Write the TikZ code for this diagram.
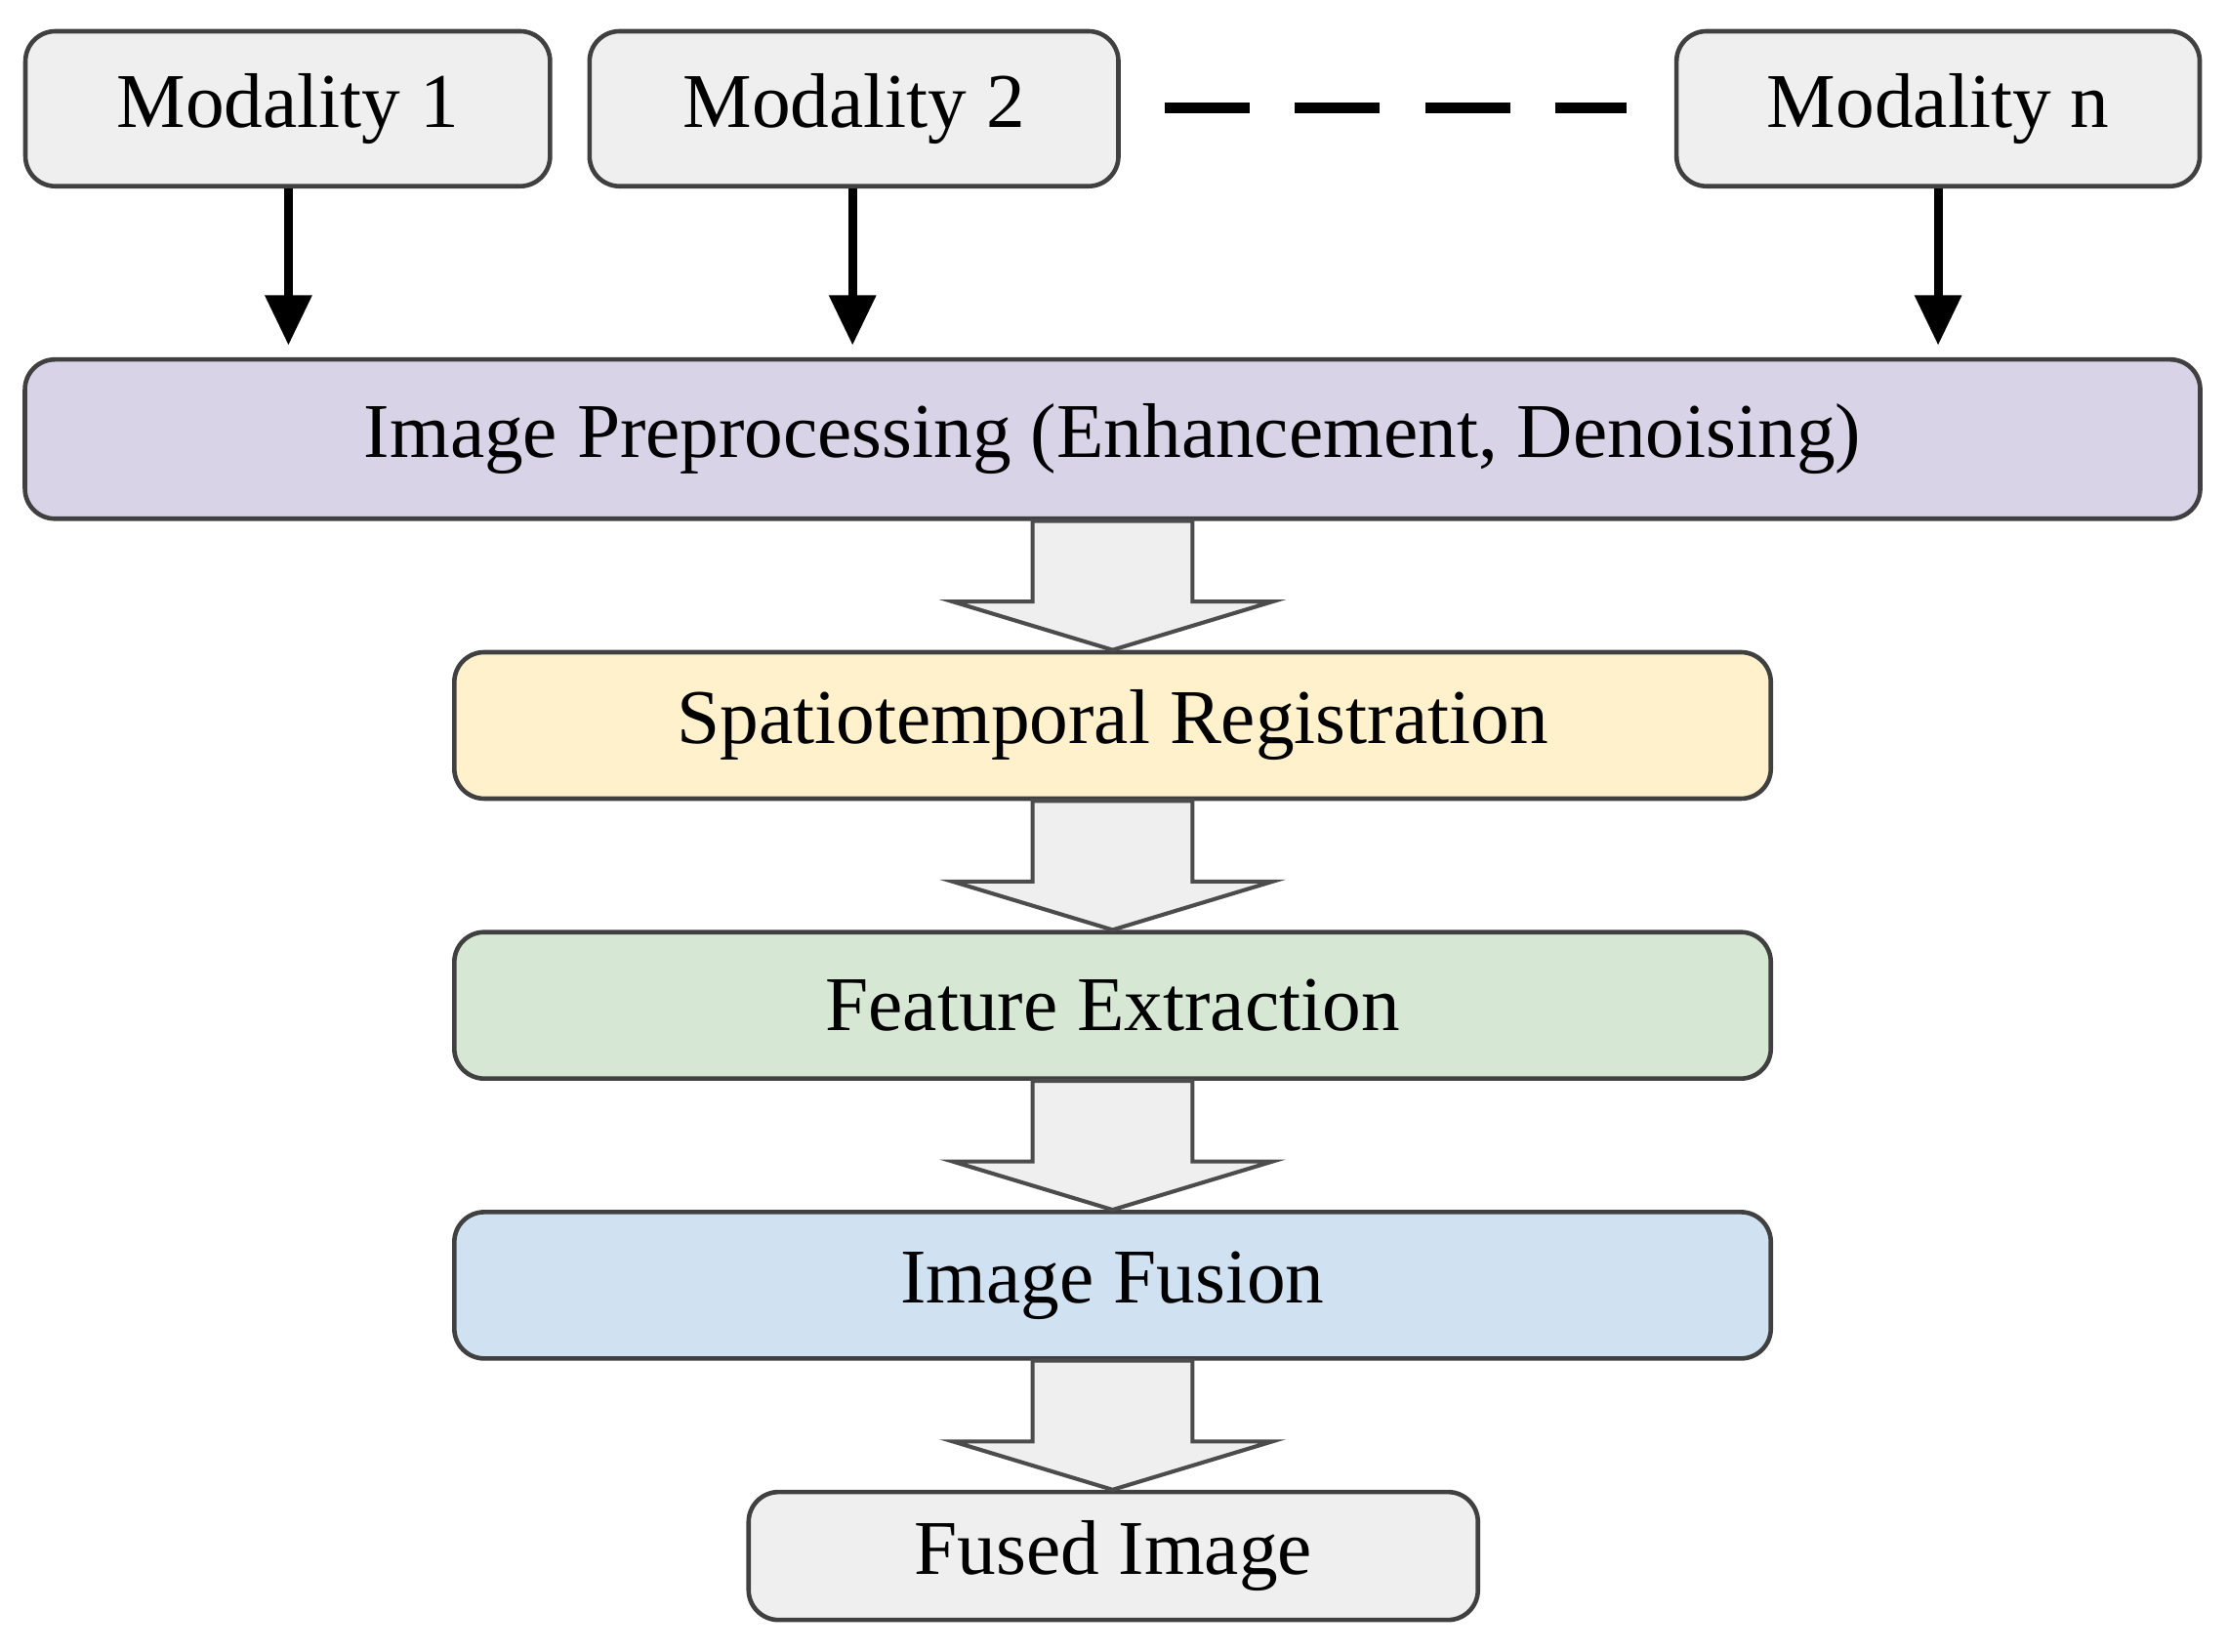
\documentclass[tikz,border=0pt]{standalone}
\usepackage{fontspec}
\setmainfont{Liberation Serif}
\usetikzlibrary{calc,arrows.meta}
\definecolor{grayf}{HTML}{EFEFEF}
\definecolor{purp}{HTML}{D9D3E8}
\definecolor{yel}{HTML}{FFF1CC}
\definecolor{grn}{HTML}{D6E8D3}
\definecolor{blu}{HTML}{D0E1F2}
\begin{document}
\begin{tikzpicture}[x=0.01cm,y=-0.01cm,
  box/.style={draw=black!75,line width=0.9pt,rounded corners=6pt,font=\fontsize{15.5}{18}\selectfont},
  blk/.style={-{Triangle[length=10pt,width=9pt]},line width=1.8pt},
  hollow/.style={draw=black!70,fill=grayf,line width=0.8pt}]
\useasboundingbox (0,0) rectangle (1568,1162);
\newcommand{\bx}[6]{\node[box,fill=#6,minimum width=#4*0.01cm,minimum height=#5*0.01cm] (#1) at (#2,#3) {};}
\node[box,fill=grayf,minimum width=3.69cm,minimum height=1.09cm] (m1) at (202.5,76.5) {Modality 1};
\node[box,fill=grayf,minimum width=3.72cm,minimum height=1.09cm] (m2) at (601,76.5) {Modality 2};
\node[box,fill=grayf,minimum width=3.68cm,minimum height=1.09cm] (mn) at (1364,76.5) {Modality n};
\node[box,fill=purp,minimum width=15.30cm,minimum height=1.12cm] (pre) at (783,309) {Image Preprocessing (Enhancement, Denoising)};
\node[box,fill=yel,minimum width=9.26cm,minimum height=1.03cm] (reg) at (783,510.5) {Spatiotemporal Registration};
\node[box,fill=grn,minimum width=9.26cm,minimum height=1.03cm] (fe) at (783,707.5) {Feature Extraction};
\node[box,fill=blu,minimum width=9.26cm,minimum height=1.03cm] (fu) at (783,904.5) {Image Fusion};
\node[box,fill=grayf,minimum width=5.13cm,minimum height=0.90cm] (out) at (783.5,1095) {Fused Image};
\coordinate (d1) at (820,76); \coordinate (d2) at (1145,76);
\draw[line width=2.2pt,dash pattern=on 17pt off 9pt] (d1) -- (d2);
\draw[blk] (m1.south -| 203,0) -- (203,243);
\draw[blk] (m2.south -| 600,0) -- (600,243);
\draw[blk] (mn.south) -- (1364,243);
\newcommand{\harrow}[2]{%
 \draw[hollow] let \p1=(#1.south), \p2=(#2.north) in
  (\x1-16,\y1) -- (\x1+16,\y1) -- (\x1+16,\y2+0.34cm) -- (\x1+32,\y2+0.34cm) -- (\x1,\y2) -- (\x1-32,\y2+0.34cm) -- (\x1-16,\y2+0.34cm) -- cycle;}
\harrow{pre}{reg}
\harrow{reg}{fe}
\harrow{fe}{fu}
\harrow{fu}{out}
\end{tikzpicture}
\end{document}
